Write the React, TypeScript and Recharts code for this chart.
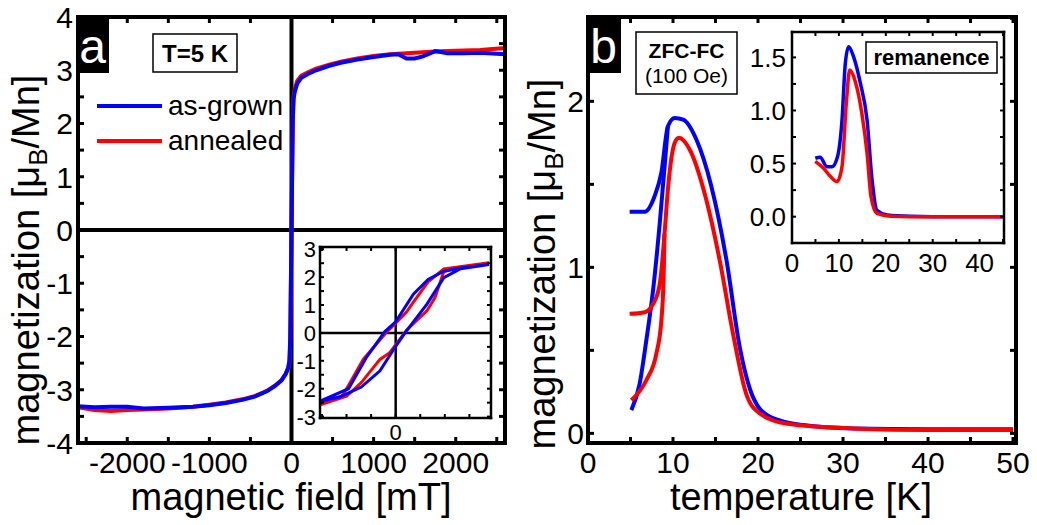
import React from 'react';
import { LineChart, Line, XAxis, YAxis, ReferenceLine } from 'recharts';

const FONT = '"Liberation Sans", Arial, Helvetica, sans-serif';
const BLUE = '#0000ff';
const RED = '#ff0000';

// ---------- Panel a: M(H) at 5 K ----------
const fieldMain = [-2600, -2400, -2200, -2000, -1800, -1500, -1200, -1000, -800, -600, -450, -300, -200, -120, -70, -40, -25, -15, 0, 15, 25, 40, 70, 120, 200, 300, 450, 600, 800, 1000, 1200, 1300, 1400, 1500, 1600, 1750, 1900, 2100, 2300, 2600];
const magMainAsGrown = [-3.31, -3.33, -3.32, -3.32, -3.35, -3.34, -3.32, -3.29, -3.25, -3.19, -3.13, -3.03, -2.93, -2.82, -2.7, -2.58, -2.45, -2.0, 0, 2.0, 2.45, 2.6, 2.75, 2.86, 2.93, 3.0, 3.08, 3.14, 3.2, 3.25, 3.29, 3.3, 3.22, 3.22, 3.26, 3.36, 3.32, 3.32, 3.33, 3.3];
const magMainAnnealed = [-3.33, -3.38, -3.4, -3.38, -3.37, -3.35, -3.32, -3.28, -3.24, -3.18, -3.12, -3.02, -2.92, -2.82, -2.7, -2.6, -2.5, -2.1, 0, 2.1, 2.5, 2.65, 2.8, 2.9, 2.96, 3.03, 3.1, 3.16, 3.22, 3.27, 3.3, 3.31, 3.32, 3.33, 3.34, 3.35, 3.36, 3.37, 3.38, 3.42];

// inset a: low-field hysteresis loops
const fieldLoopAsGrown = [95, 66, 49, 33, 18, 0, -11, -30, -48, -67, -77, -57, -35, -16, 0, 9.5, 32, 49, 66, 95];
const magLoopAsGrown = [2.45, 2.33, 2.21, 1.92, 1.39, 0.4, 0.05, -0.89, -2.0, -2.29, -2.45, -2.3, -1.94, -1.36, -0.48, 0, 1.04, 1.98, 2.3, 2.45];
const fieldLoopAnnealed = [95, 49, 33, 18, 11, 0, -9, -33, -47, -54, -77, -50, -35, -16, -6, 11, 32, 40, 49, 66, 95];
const magLoopAnnealed = [2.52, 2.29, 1.83, 1.1, 0.75, 0.35, 0.04, -0.95, -1.82, -2.24, -2.58, -2.27, -1.78, -0.95, -0.71, 0.1, 0.8, 1.27, 2.2, 2.36, 2.52];

const aXTicks = [-2500, -2000, -1500, -1000, -500, 0, 500, 1000, 1500, 2000, 2500];
const aXLabels = [-2000, -1000, 0, 1000, 2000];
const aYTicks = [-4, -3.5, -3, -2.5, -2, -1.5, -1, -0.5, 0, 0.5, 1, 1.5, 2, 2.5, 3, 3.5, 4];
const aYLabels = [-4, -3, -2, -1, 0, 1, 2, 3, 4];
const iaXTicks = [-75, -50, -25, 0, 25, 50, 75];
const iaXLabels = [0];
const iaYTicks = [-3, -2.5, -2, -1.5, -1, -0.5, 0, 0.5, 1, 1.5, 2, 2.5, 3];
const iaYLabels = [-3, -2, -1, 0, 1, 2, 3];

// ---------- Panel b: ZFC-FC (100 Oe) ----------
const tempFcAsGrown = [4.9, 6.67, 7.84, 8.63, 9.4, 10.2, 11.2, 12.75, 14.5, 16.3, 17.85, 19.4, 21.4, 25.3, 31.2, 40, 50];
const magFcAsGrown = [1.335, 1.335, 1.43, 1.57, 1.85, 1.9, 1.89, 1.77, 1.49, 1.04, 0.52, 0.22, 0.1, 0.05, 0.03, 0.025, 0.025];
const tempZfcAsGrown = [5.1, 6.08, 6.86, 7.65, 8.43, 9.0, 9.4];
const magZfcAsGrown = [0.14, 0.3, 0.56, 0.86, 1.26, 1.6, 1.85];
const tempFcAnnealed = [4.9, 6.67, 8.04, 8.5, 9.0, 9.4, 10.2, 10.7, 11.96, 13.9, 15.5, 17.06, 18.6, 20.2, 23.3, 31.2, 40, 50];
const magFcAnnealed = [0.72, 0.73, 0.82, 0.92, 1.2, 1.47, 1.75, 1.78, 1.71, 1.41, 1.04, 0.6, 0.24, 0.12, 0.06, 0.03, 0.02, 0.02];
const tempZfcAnnealed = [5.1, 6.86, 8.04, 8.63, 8.9, 9.0];
const magZfcAnnealed = [0.2, 0.32, 0.48, 0.68, 0.95, 1.2];

// inset b: remanence
const tempRemAsGrown = [4.97, 6.0, 7.46, 8.5, 9.7, 10.66, 11.36, 12.07, 13.1, 14.56, 16.0, 17.06, 18.1, 20.3, 25.2, 35, 45.3];
const magRemAsGrown = [0.55, 0.56, 0.47, 0.47, 0.565, 0.91, 1.44, 1.6, 1.51, 1.26, 0.91, 0.35, 0.06, 0.016, 0.005, 0, 0];
const tempRemAnnealed = [4.97, 6.74, 8.17, 9.6, 10.66, 11.58, 12.3, 13.5, 14.9, 16.0, 16.84, 18.1, 21, 30, 45.3];
const magRemAnnealed = [0.52, 0.455, 0.38, 0.33, 0.47, 1.07, 1.38, 1.27, 0.97, 0.6, 0.19, 0.03, 0.005, 0, 0];

const bXTicks = [0, 5, 10, 15, 20, 25, 30, 35, 40, 45, 50];
const bXLabels = [0, 10, 20, 30, 40, 50];
const bYTicks = [0, 0.5, 1, 1.5, 2, 2.5];
const bYLabels = [0, 1, 2];
const ibXTicks = [0, 5, 10, 15, 20, 25, 30, 35, 40, 45];
const ibXLabels = [0, 10, 20, 30, 40];
const ibYTicks = [0, 0.25, 0.5, 0.75, 1, 1.25, 1.5];
const ibYLabels = [0, 0.5, 1, 1.5];

const zip = (xs: number[], ys: number[]) => xs.map((x, i) => ({ x, y: ys[i] }));

type Side = 'bottom' | 'top' | 'left' | 'right';

function makeTick(
  side: Side,
  len: number,
  labels: number[] | null,
  fontSize: number,
  gap: number,
  tickWidth: number,
  fmt: (v: number) => string = (v) => String(v)
) {
  return (props: any) => {
    const { x, y, payload } = props;
    const v = payload.value as number;
    const show = !!labels && labels.some((l) => Math.abs(l - v) < 1e-9);
    const lp = { stroke: '#000', strokeWidth: tickWidth };
    let ln: any = null;
    let tx: any = null;
    if (side === 'bottom') {
      ln = <line x1={x} y1={y} x2={x} y2={y - len} {...lp} />;
      if (show)
        tx = (
          <text x={x} y={y + gap} textAnchor="middle" fontSize={fontSize} fontFamily={FONT} fill="#000">
            {fmt(v)}
          </text>
        );
    } else if (side === 'top') {
      ln = <line x1={x} y1={y} x2={x} y2={y + len} {...lp} />;
    } else if (side === 'left') {
      ln = <line x1={x} y1={y} x2={x + len} y2={y} {...lp} />;
      if (show)
        tx = (
          <text x={x - gap} y={y + 0.36 * fontSize} textAnchor="end" fontSize={fontSize} fontFamily={FONT} fill="#000">
            {fmt(v)}
          </text>
        );
    } else {
      ln = <line x1={x} y1={y} x2={x - len} y2={y} {...lp} />;
    }
    return (
      <g>
        {ln}
        {tx}
      </g>
    );
  };
}

type FrameProps = {
  xDomain: [number, number];
  yDomain: [number, number];
  xTicks: number[];
  yTicks: number[];
  xLabels: number[];
  yLabels: number[];
  fontSize: number;
  xGap: number;
  yGap: number;
  tickLen: number;
  tickWidth: number;
  frameWidth: number;
  yFmt?: (v: number) => string;
};

function frameAxes(p: FrameProps) {
  const axisLine = { stroke: '#000', strokeWidth: p.frameWidth, strokeLinecap: 'square' as const };
  return [
    <XAxis
      key="xb"
      xAxisId={0}
      dataKey="x"
      type="number"
      orientation="bottom"
      domain={p.xDomain}
      ticks={p.xTicks}
      allowDataOverflow
      interval={0}
      height={1}
      tickSize={0}
      tickMargin={0}
      tickLine={false}
      axisLine={axisLine}
      tick={makeTick('bottom', p.tickLen, p.xLabels, p.fontSize, p.xGap, p.tickWidth)}
    />,
    <XAxis
      key="xt"
      xAxisId="top"
      dataKey="x"
      type="number"
      orientation="top"
      domain={p.xDomain}
      ticks={p.xTicks}
      allowDataOverflow
      interval={0}
      height={1}
      tickSize={0}
      tickMargin={0}
      tickLine={false}
      axisLine={axisLine}
      tick={makeTick('top', p.tickLen, null, p.fontSize, 0, p.tickWidth)}
    />,
    <YAxis
      key="yl"
      yAxisId={0}
      dataKey="y"
      type="number"
      orientation="left"
      domain={p.yDomain}
      ticks={p.yTicks}
      allowDataOverflow
      interval={0}
      width={1}
      tickSize={0}
      tickMargin={0}
      tickLine={false}
      axisLine={axisLine}
      tick={makeTick('left', p.tickLen, p.yLabels, p.fontSize, p.yGap, p.tickWidth, p.yFmt)}
    />,
    <YAxis
      key="yr"
      yAxisId="right"
      dataKey="y"
      type="number"
      orientation="right"
      domain={p.yDomain}
      ticks={p.yTicks}
      allowDataOverflow
      interval={0}
      width={1}
      tickSize={0}
      tickMargin={0}
      tickLine={false}
      axisLine={axisLine}
      tick={makeTick('right', p.tickLen, null, p.fontSize, 0, p.tickWidth)}
    />,
  ];
}

function Box(props: { left: number; top: number; children: any }) {
  return <div style={{ position: 'absolute', left: props.left, top: props.top }}>{props.children}</div>;
}

export default function App() {
  const dataMainAsGrown = zip(fieldMain, magMainAsGrown);
  const dataMainAnnealed = zip(fieldMain, magMainAnnealed);
  const dataLoopAsGrown = zip(fieldLoopAsGrown, magLoopAsGrown);
  const dataLoopAnnealed = zip(fieldLoopAnnealed, magLoopAnnealed);
  const dataFcAG = zip(tempFcAsGrown, magFcAsGrown);
  const dataZfcAG = zip(tempZfcAsGrown, magZfcAsGrown);
  const dataFcAN = zip(tempFcAnnealed, magFcAnnealed);
  const dataZfcAN = zip(tempZfcAnnealed, magZfcAnnealed);
  const dataRemAG = zip(tempRemAsGrown, magRemAsGrown);
  const dataRemAN = zip(tempRemAnnealed, magRemAnnealed);

  return (
    <div style={{ position: 'absolute', left: 0, top: 0, width: 1037, height: 525, background: '#fff', overflow: 'hidden' }}>
      {/* Panel a main */}
      <Box left={0} top={0}>
        <LineChart width={525} height={493} margin={{ top: 16, right: 19, bottom: 49, left: 77 }}>
          {frameAxes({
            xDomain: [-2600, 2600],
            yDomain: [-4, 4],
            xTicks: aXTicks,
            yTicks: aYTicks,
            xLabels: aXLabels,
            yLabels: aYLabels,
            fontSize: 30,
            xGap: 30,
            yGap: 5,
            tickLen: 6,
            tickWidth: 3,
            frameWidth: 4,
          })}
          <ReferenceLine x={0} stroke="#000" strokeWidth={4} />
          <ReferenceLine y={0} stroke="#000" strokeWidth={4} />
          <Line data={dataMainAnnealed} dataKey="y" type="linear" stroke={RED} strokeWidth={4} dot={false} isAnimationActive={false} />
          <Line data={dataMainAsGrown} dataKey="y" type="linear" stroke={BLUE} strokeWidth={4} dot={false} isAnimationActive={false} />
        </LineChart>
      </Box>

      {/* Panel b main */}
      <Box left={518} top={0}>
        <LineChart width={513} height={493} margin={{ top: 16, right: 14, bottom: 49, left: 69 }}>
          {frameAxes({
            xDomain: [0, 50.35],
            yDomain: [-0.058, 2.508],
            xTicks: bXTicks,
            yTicks: bYTicks,
            xLabels: bXLabels,
            yLabels: bYLabels,
            fontSize: 30,
            xGap: 30,
            yGap: 4,
            tickLen: 6,
            tickWidth: 3,
            frameWidth: 4,
          })}
          <Line data={dataFcAG} dataKey="y" type="monotone" stroke={BLUE} strokeWidth={4} dot={false} isAnimationActive={false} />
          <Line data={dataZfcAG} dataKey="y" type="monotone" stroke={BLUE} strokeWidth={4} dot={false} isAnimationActive={false} />
          <Line data={dataFcAN} dataKey="y" type="monotone" stroke={RED} strokeWidth={4} dot={false} isAnimationActive={false} />
          <Line data={dataZfcAN} dataKey="y" type="monotone" stroke={RED} strokeWidth={4} dot={false} isAnimationActive={false} />
        </LineChart>
      </Box>

      {/* inset backgrounds */}
      <div style={{ position: 'absolute', left: 320, top: 247, width: 171, height: 171, background: '#fff' }} />
      <div style={{ position: 'absolute', left: 792, top: 32, width: 212, height: 211, background: '#fff' }} />

      {/* Inset a */}
      <Box left={280} top={232}>
        <LineChart width={216} height={216} margin={{ top: 14, right: 4, bottom: 29, left: 39 }}>
          {frameAxes({
            xDomain: [-77, 97],
            yDomain: [-3.05, 3.08],
            xTicks: iaXTicks,
            yTicks: iaYTicks,
            xLabels: iaXLabels,
            yLabels: iaYLabels,
            fontSize: 22,
            xGap: 22,
            yGap: 4,
            tickLen: 4,
            tickWidth: 2,
            frameWidth: 2.5,
          })}
          <ReferenceLine x={0} stroke="#000" strokeWidth={2.5} />
          <ReferenceLine y={0} stroke="#000" strokeWidth={2.5} />
          <Line data={dataLoopAnnealed} dataKey="y" type="linear" stroke={RED} strokeWidth={3} dot={false} isAnimationActive={false} />
          <Line data={dataLoopAsGrown} dataKey="y" type="linear" stroke={BLUE} strokeWidth={3} dot={false} isAnimationActive={false} />
        </LineChart>
      </Box>

      {/* Inset b */}
      <Box left={742} top={17}>
        <LineChart width={267} height={266} margin={{ top: 14, right: 4, bottom: 39, left: 49 }}>
          {frameAxes({
            xDomain: [0, 45.2],
            yDomain: [-0.248, 1.739],
            xTicks: ibXTicks,
            yTicks: ibYTicks,
            xLabels: ibXLabels,
            yLabels: ibYLabels,
            fontSize: 26,
            xGap: 29,
            yGap: 6,
            tickLen: 4,
            tickWidth: 2,
            frameWidth: 2.5,
            yFmt: (v) => v.toFixed(1),
          })}
          <Line data={dataRemAG} dataKey="y" type="monotone" stroke={BLUE} strokeWidth={3.5} dot={false} isAnimationActive={false} />
          <Line data={dataRemAN} dataKey="y" type="monotone" stroke={RED} strokeWidth={3.5} dot={false} isAnimationActive={false} />
        </LineChart>
      </Box>

      {/* annotations */}
      <svg width={1037} height={525} style={{ position: 'absolute', left: 0, top: 0, pointerEvents: 'none' }} fontFamily={FONT}>
        {/* panel tags */}
        <rect x={76} y={15} width={33} height={58} fill="#000" />
        <text x={92.5} y={63} fill="#fff" fontSize={48} textAnchor="middle">a</text>
        <rect x={586} y={15} width={35} height={58} fill="#000" />
        <text x={603.5} y={63} fill="#fff" fontSize={48} textAnchor="middle">b</text>

        {/* T=5 K box */}
        <rect x={153} y={34} width={84} height={38} fill="#fff" stroke="#000" strokeWidth={1.5} />
        <text x={195} y={62} fontSize={24} fontWeight="bold" textAnchor="middle">T=5 K</text>

        {/* legend */}
        <line x1={97} y1={106} x2={162} y2={106} stroke={BLUE} strokeWidth={4} />
        <text x={168} y={115} fontSize={28}>as-grown</text>
        <line x1={97} y1={141} x2={162} y2={141} stroke={RED} strokeWidth={4} />
        <text x={168} y={150} fontSize={28}>annealed</text>

        {/* ZFC-FC box */}
        <rect x={636} y={32} width={101} height={62} fill="#fff" stroke="#000" strokeWidth={1.5} />
        <text x={686.5} y={58} fontSize={21} fontWeight="bold" textAnchor="middle">ZFC-FC</text>
        <text x={686.5} y={83} fontSize={21} textAnchor="middle">(100 Oe)</text>

        {/* remanence box */}
        <rect x={866} y={42} width={131} height={31} fill="#fff" stroke="#000" strokeWidth={1.5} />
        <text x={931.5} y={65} fontSize={22} fontWeight="bold" textAnchor="middle">remanence</text>

        {/* axis titles */}
        <text x={291} y={510} fontSize={38} textAnchor="middle">magnetic field [mT]</text>
        <text x={801} y={510} fontSize={38} textAnchor="middle">temperature [K]</text>
        <text x={39} y={260} fontSize={38} textAnchor="middle" transform="rotate(-90 39 260)">
          magnetization [μ<tspan fontSize={26} dy={8}>B</tspan><tspan dy={-8}>/Mn]</tspan>
        </text>
        <text x={555} y={264} fontSize={38} textAnchor="middle" transform="rotate(-90 555 264)">
          magnetization [μ<tspan fontSize={26} dy={8}>B</tspan><tspan dy={-8}>/Mn]</tspan>
        </text>
      </svg>
    </div>
  );
}
